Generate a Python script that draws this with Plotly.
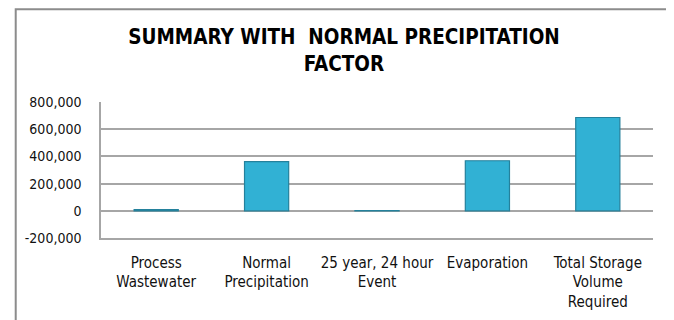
import plotly.graph_objects as go

# values
categories = [
    "Process<br>Wastewater",
    "Normal<br>Precipitation",
    "25 year, 24 hour<br>Event",
    "Evaporation",
    "Total Storage<br>Volume<br>Required",
]
volumes = [8000, 361000, 1500, 368000, 686000]
y_ticks = [-200000, 0, 200000, 400000, 600000, 800000]
y_tick_text = ["-200,000", "0", "200,000", "400,000", "600,000", "800,000"]

FONT = "DejaVu Sans Condensed, Liberation Sans Narrow, Arial Narrow, sans-serif"
GRID = "#A6A6A6"

fig = go.Figure()
fig.add_trace(go.Bar(
    x=categories, y=volumes,
    marker=dict(color="#31B1D4", line=dict(color="#24819C", width=1.2)),
    width=0.4,
))

# chart border (outer frame)
fig.add_shape(type="rect", xref="paper", yref="paper",
              x0=-0.1545, x1=1.031, y0=-0.7, y1=1.682,
              line=dict(color="#8C8C8C", width=2), layer="below")

# the page body adds an 8px offset, so margins are shifted by that much
fig.update_layout(
    width=674, height=320,
    margin=dict(l=93, r=29, t=94, b=90, autoexpand=False),
    paper_bgcolor="white", plot_bgcolor="white",
    showlegend=False,
    font=dict(family=FONT, size=15, color="#111111"),
    title=dict(
        text="<b>SUMMARY WITH  NORMAL PRECIPITATION<br>FACTOR</b>",
        font=dict(family=FONT, size=20.5, color="#000000"),
        x=0.4985, xanchor="center", xref="container",
        y=0.886, yanchor="top", yref="container",
        automargin=False,
    ),
)
fig.update_yaxes(
    range=[-200000, 800000], tickvals=y_ticks, ticktext=y_tick_text,
    showgrid=True, gridcolor=GRID, gridwidth=1.5,
    zeroline=True, zerolinecolor=GRID, zerolinewidth=1.5,
    showline=True, linecolor=GRID, linewidth=1.5,
    ticks="", ticklabelstandoff=15, automargin=False,
    tickfont=dict(family=FONT, size=14, color="#111111"),
)
fig.update_xaxes(
    showline=True, linecolor=GRID, linewidth=1.5,
    ticks="", ticklabelstandoff=10, automargin=False,
    tickfont=dict(family=FONT, size=15, color="#111111"),
)

fig.write_html("out.html")
